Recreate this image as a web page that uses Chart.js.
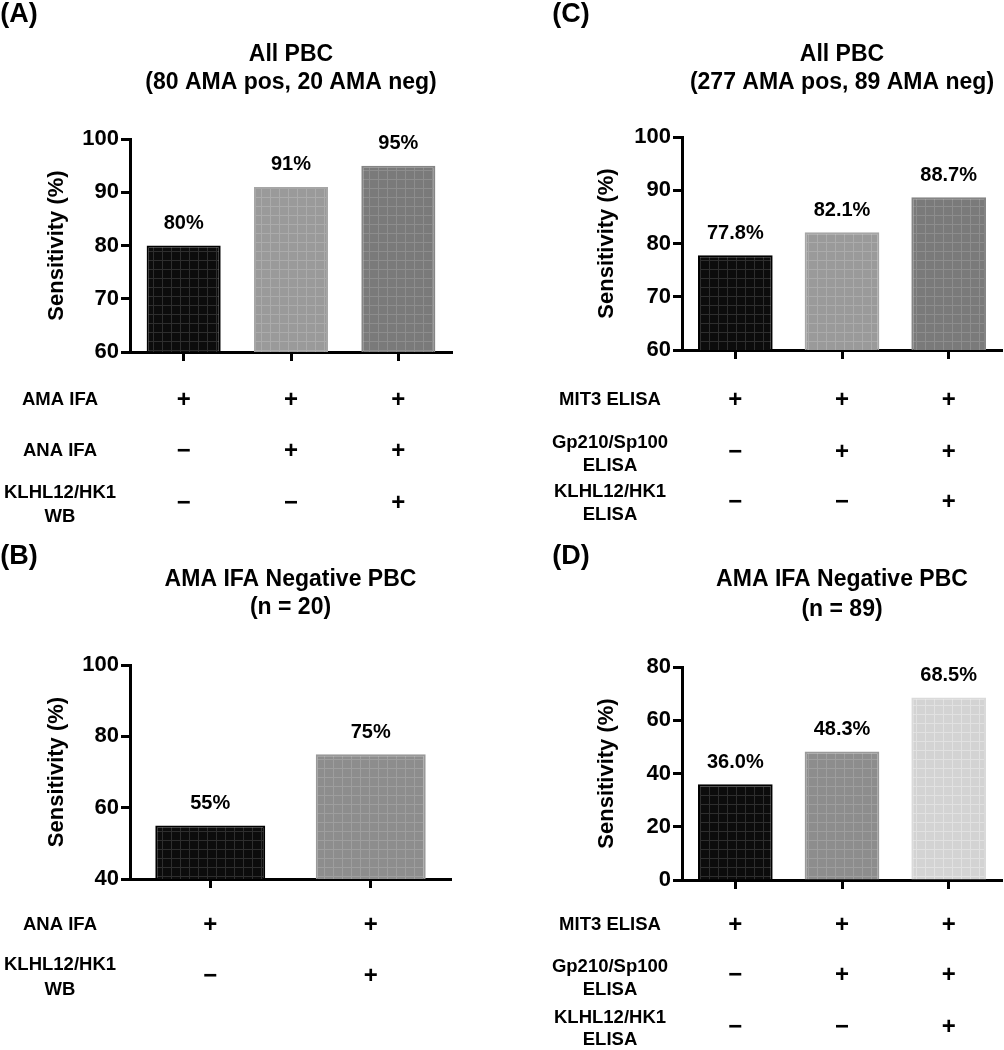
<!DOCTYPE html>
<html>
<head>
<meta charset="utf-8">
<script src="https://cdn.jsdelivr.net/npm/chart.js@4.4.0/dist/chart.umd.min.js"></script>
<style>
  body { margin: 0; background: #fff; }
  #wrap { position: relative; width: 1004px; height: 1050px; }
  canvas { position: absolute; }
</style>
</head>
<body>
<div id="wrap">
  <canvas id="chartA" width="502" height="535" style="left:0;top:0"></canvas>
  <canvas id="chartC" width="502" height="535" style="left:502px;top:0"></canvas>
  <canvas id="chartB" width="502" height="515" style="left:0;top:535px"></canvas>
  <canvas id="chartD" width="502" height="515" style="left:502px;top:535px"></canvas>
</div>
<script>
// ---- data ----
const aCategories = ["AMA IFA", "AMA IFA + ANA IFA", "AMA IFA + ANA IFA + KLHL12/HK1 WB"];
const aValues = [80, 91, 95];
const aValueLabels = ["80%", "91%", "95%"];
const aTicks = [60, 70, 80, 90, 100];
const aTitle = ["All PBC", "(80 AMA pos, 20 AMA neg)"];
const aRowLabels = [["AMA IFA"], ["ANA IFA"], ["KLHL12/HK1", "WB"]];
const aSigns = [["+", "+", "+"], ["\u2212", "+", "+"], ["\u2212", "\u2212", "+"]];

const bCategories = ["ANA IFA", "ANA IFA + KLHL12/HK1 WB"];
const bValues = [55, 75];
const bValueLabels = ["55%", "75%"];
const bTicks = [40, 60, 80, 100];
const bTitle = ["AMA IFA Negative PBC", "(n = 20)"];
const bRowLabels = [["ANA IFA"], ["KLHL12/HK1", "WB"]];
const bSigns = [["+", "+"], ["\u2212", "+"]];

const cCategories = ["MIT3 ELISA", "MIT3 + Gp210/Sp100 ELISA", "MIT3 + Gp210/Sp100 + KLHL12/HK1 ELISA"];
const cValues = [77.8, 82.1, 88.7];
const cValueLabels = ["77.8%", "82.1%", "88.7%"];
const cTicks = [60, 70, 80, 90, 100];
const cTitle = ["All PBC", "(277 AMA pos, 89 AMA neg)"];
const cRowLabels = [["MIT3 ELISA"], ["Gp210/Sp100", "ELISA"], ["KLHL12/HK1", "ELISA"]];
const cSigns = [["+", "+", "+"], ["\u2212", "+", "+"], ["\u2212", "\u2212", "+"]];

const dCategories = ["MIT3 ELISA", "MIT3 + Gp210/Sp100 ELISA", "MIT3 + Gp210/Sp100 + KLHL12/HK1 ELISA"];
const dValues = [36.0, 48.3, 68.5];
const dValueLabels = ["36.0%", "48.3%", "68.5%"];
const dTicks = [0, 20, 40, 60, 80];
const dTitle = ["AMA IFA Negative PBC", "(n = 89)"];
const dRowLabels = [["MIT3 ELISA"], ["Gp210/Sp100", "ELISA"], ["KLHL12/HK1", "ELISA"]];
const dSigns = [["+", "+", "+"], ["\u2212", "+", "+"], ["\u2212", "\u2212", "+"]];

const FONT = '"Liberation Sans", Arial, sans-serif';

// grid-textured fill like the original prism bars
function gridPattern(base, line) {
  const c = document.createElement("canvas");
  c.width = 9; c.height = 9;
  const g = c.getContext("2d");
  g.fillStyle = base;
  g.fillRect(0, 0, 9, 9);
  g.fillStyle = line;
  g.fillRect(0, 0, 1, 9);
  g.fillRect(0, 8, 9, 1);
  return g.createPattern(c, "repeat");
}

const blackFill = gridPattern("#0c0c0c", "#2e2e2e");
const lightFill = gridPattern("#9a9a9a", "#ababab");
const darkFill = gridPattern("#7a7a7a", "#8d8d8d");
const midFill = gridPattern("#8d8d8d", "#9e9e9e");
const paleFill = gridPattern("#d3d3d3", "#e1e1e1");

// titles, letters, value labels and the +/- table
function decor(cfg) {
  return {
    id: "decor",
    afterDatasetsDraw(chart) {
      const ctx = chart.ctx;
      const area = chart.chartArea;
      const xs = chart.scales.x;
      const mid = (area.left + area.right) / 2;
      ctx.save();
      ctx.fillStyle = "#000";
      ctx.textAlign = "center";
      ctx.textBaseline = "middle";

      ctx.font = "bold 27px " + FONT;
      ctx.fillText(cfg.letter, cfg.letterX, cfg.letterY);

      ctx.font = "bold 23px " + FONT;
      cfg.title.forEach((t, i) => ctx.fillText(t, mid, cfg.titleY[i]));

      ctx.font = "bold 20px " + FONT;
      chart.getDatasetMeta(0).data.forEach((bar, i) => {
        ctx.fillText(cfg.valueLabels[i], bar.x, bar.y - 22);
      });

      ctx.font = "bold 18.5px " + FONT;
      cfg.rowLabels.forEach((lines, r) => {
        lines.forEach((l, k) => ctx.fillText(l, cfg.rowLabelX, cfg.rowLabelY[r][k]));
      });

      ctx.font = "bold 24px " + FONT;
      cfg.signs.forEach((row, r) => {
        row.forEach((s, i) => ctx.fillText(s, xs.getPixelForValue(i), cfg.signY[r]));
      });
      ctx.restore();
    }
  };
}

function makeChart(id, p) {
  return new Chart(document.getElementById(id), {
    type: "bar",
    data: {
      labels: p.categories,
      datasets: [{
        data: p.values,
        backgroundColor: p.fills,
        borderColor: p.borders,
        borderWidth: 2,
        barPercentage: p.barPct,
        categoryPercentage: 1
      }]
    },
    options: {
      responsive: false,
      animation: false,
      devicePixelRatio: 1,
      layout: { padding: p.padding },
      plugins: { legend: { display: false }, tooltip: { enabled: false } },
      scales: {
        x: {
          grid: {
            offset: false,
            drawOnChartArea: false,
            drawTicks: true,
            tickLength: 9,
            tickWidth: 3,
            tickColor: "#000"
          },
          border: { display: true, width: 3, color: "#000" },
          ticks: { display: false },
          afterFit(scale) { scale.height = 20; }
        },
        y: {
          min: p.ticks[0],
          max: p.ticks[p.ticks.length - 1],
          grid: {
            drawOnChartArea: false,
            drawTicks: true,
            tickLength: 9,
            tickWidth: 3,
            tickColor: "#000"
          },
          border: { display: true, width: 3, color: "#000" },
          ticks: {
            stepSize: p.ticks[1] - p.ticks[0],
            color: "#000",
            padding: 2,
            font: { family: FONT, size: 22, weight: "bold" }
          },
          title: {
            display: true,
            text: "Sensitivity (%)",
            color: "#000",
            padding: { top: p.yTitlePad, bottom: 0 },
            font: { family: FONT, size: 22, weight: "bold" }
          },
          afterFit(scale) { scale.width = p.yWidth; }
        }
      }
    },
    plugins: [decor(p.decor)]
  });
}

makeChart("chartA", {
  categories: aCategories, values: aValues, ticks: aTicks,
  fills: [blackFill, lightFill, darkFill],
  borders: ["#000", "#a6a6a6", "#858585"],
  barPct: 0.69,
  padding: { left: 0, top: 139, right: 50, bottom: 163 },
  yWidth: 130, yTitlePad: 44,
  decor: {
    letter: "(A)", letterX: 19, letterY: 15,
    title: aTitle, titleY: [55, 83],
    valueLabels: aValueLabels,
    rowLabels: aRowLabels, rowLabelX: 60, rowLabelY: [[400], [451], [493, 517]],
    signs: aSigns, signY: [400, 451, 503]
  }
});

makeChart("chartC", {
  categories: cCategories, values: cValues, ticks: cTicks,
  fills: [blackFill, lightFill, darkFill],
  borders: ["#000", "#a6a6a6", "#858585"],
  barPct: 0.70,
  padding: { left: 0, top: 137, right: 2, bottom: 165 },
  yWidth: 180, yTitlePad: 92,
  decor: {
    letter: "(C)", letterX: 69, letterY: 15,
    title: cTitle, titleY: [55, 83],
    valueLabels: cValueLabels,
    rowLabels: cRowLabels, rowLabelX: 108, rowLabelY: [[400], [443, 466], [492, 515]],
    signs: cSigns, signY: [400, 452, 502]
  }
});

makeChart("chartB", {
  categories: bCategories, values: bValues, ticks: bTicks,
  fills: [blackFill, midFill],
  borders: ["#000", "#999999"],
  barPct: 0.685,
  padding: { left: 0, top: 130, right: 51, bottom: 151 },
  yWidth: 130, yTitlePad: 44,
  decor: {
    letter: "(B)", letterX: 19, letterY: 22,
    title: bTitle, titleY: [45, 73],
    valueLabels: bValueLabels,
    rowLabels: bRowLabels, rowLabelX: 60, rowLabelY: [[390], [430, 455]],
    signs: bSigns, signY: [390, 441]
  }
});

makeChart("chartD", {
  categories: dCategories, values: dValues, ticks: dTicks,
  fills: [blackFill, midFill, paleFill],
  borders: ["#000", "#999999", "#dadada"],
  barPct: 0.70,
  padding: { left: 0, top: 132, right: 2, bottom: 150 },
  yWidth: 180, yTitlePad: 92,
  decor: {
    letter: "(D)", letterX: 69, letterY: 22,
    title: dTitle, titleY: [45, 75],
    valueLabels: dValueLabels,
    rowLabels: dRowLabels, rowLabelX: 108, rowLabelY: [[390], [432, 455], [483, 505]],
    signs: dSigns, signY: [390, 440, 492]
  }
});
</script>
</body>
</html>
